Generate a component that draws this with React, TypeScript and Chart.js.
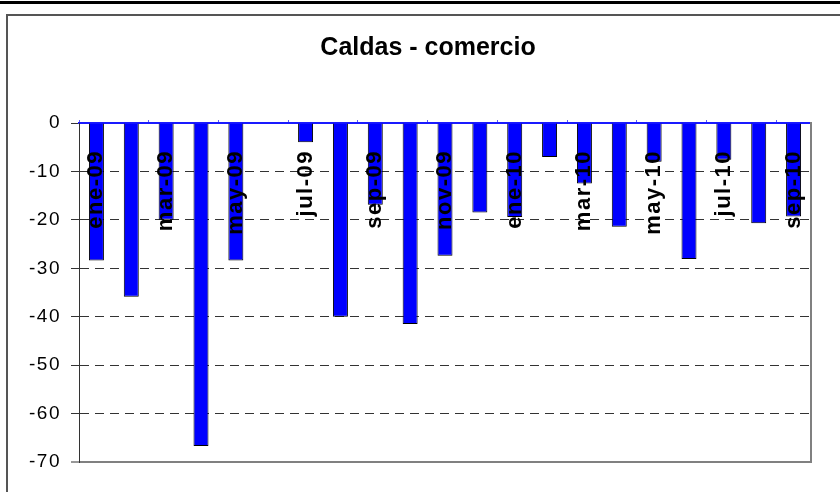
import React, { useEffect, useRef } from 'react';
import { Chart, registerables } from 'chart.js';

Chart.register(...registerables);

const titleText = 'Caldas - comercio';
const categories = [
  'ene-09', 'feb-09', 'mar-09', 'abr-09', 'may-09', 'jun-09', 'jul-09',
  'ago-09', 'sep-09', 'oct-09', 'nov-09', 'dic-09', 'ene-10', 'feb-10',
  'mar-10', 'abr-10', 'may-10', 'jun-10', 'jul-10', 'ago-10', 'sep-10',
];
const values: (number | null)[] = [
  -28.4, -35.9, -20.0, -66.7, -28.4, null, -4.0,
  -40.0, -16.9, -41.5, -27.4, -18.5, -19.4, -7.0,
  -12.5, -21.4, -8.0, -28.1, -7.6, -20.7, -19.3,
];
const yMin = -70;
const yMax = 0;
const yStep = 10;

const FONT = "'Liberation Sans', Arial, Helvetica, sans-serif";

const spacingPlugin = {
  id: 'labelSpacing',
  afterDatasetsDraw(chart: any) {
    chart.ctx.letterSpacing = '1.5px';
  },
  afterDraw(chart: any) {
    chart.ctx.letterSpacing = '0px';
  },
};

export default function App() {
  const ref = useRef<HTMLCanvasElement>(null);

  useEffect(() => {
    const canvas = ref.current;
    if (!canvas) return;
    const chart = new Chart(canvas, {
      type: 'bar',
      data: {
        labels: categories,
        datasets: [
          {
            data: values,
            backgroundColor: '#0000ff',
            borderColor: '#000000',
            borderWidth: 1,
            barPercentage: 0.43,
            categoryPercentage: 1,
          },
        ],
      },
      plugins: [spacingPlugin],
      options: {
        responsive: false,
        animation: false,
        layout: { padding: { left: 16, right: 0, top: 0, bottom: 30 } },
        plugins: {
          legend: { display: false },
          tooltip: { enabled: false },
          title: {
            display: true,
            text: titleText,
            color: '#000000',
            font: { family: FONT, size: 25, weight: 'bold' },
            padding: { top: 33, bottom: 60 },
          },
        },
        scales: {
          x: {
            type: 'category',
            position: { y: 0 } as any,
            afterFit: (s: any) => {
              s.height = 0;
              s.paddingLeft = 0;
              s.paddingRight = 0;
            },
            grid: {
              display: true,
              drawOnChartArea: false,
              drawTicks: true,
              tickLength: -4,
              offset: true,
              tickColor: (c: any) => (typeof c.index === 'number' && c.index % 2 === 0 ? '#5a5aff' : 'rgba(0,0,0,0)'),
            },
            border: { display: true, color: '#1a1aff', width: 2 },
            ticks: {
              autoSkip: false,
              minRotation: 90,
              maxRotation: 90,
              padding: 31,
              z: 1,
              color: '#000000',
              font: { family: FONT, size: 22, weight: 'bold' },
              callback: (_v: any, i: number) => (i % 2 === 0 ? categories[i] : ''),
            },
          },
          y: {
            type: 'linear',
            position: 'left',
            min: yMin,
            max: yMax,
            afterFit: (s: any) => {
              s.width = 63;
            },
            ticks: {
              stepSize: yStep,
              padding: 10,
              z: 1,
              color: '#000000',
              font: { family: FONT, size: 19 },
            },
            grid: {
              color: (c: any) => {
                if (!c.tick) return '#333333';
                if (c.tick.value === yMax) return 'rgba(0,0,0,0)';
                if (c.tick.value === yMin) return '#808080';
                return '#333333';
              },
              lineWidth: (c: any) => (c.tick && c.tick.value === yMin ? 2 : 1),
              tickColor: '#333333',
              tickLength: 8,
              tickWidth: 1,
            },
            border: {
              display: true,
              color: '#333333',
              width: 1,
              dash: (c: any) => (c.tick && c.tick.value !== yMin ? [9, 6] : []),
            },
          },
          y2: {
            type: 'linear',
            position: 'right',
            afterFit: (s: any) => {
              s.width = 29;
            },
            grid: { display: false, drawTicks: false },
            ticks: { display: false },
            border: { display: true, color: '#808080', width: 2 },
          },
        },
      },
    });
    return () => chart.destroy();
  }, []);

  return (
    <div
      style={{
        position: 'fixed',
        left: 0,
        top: 0,
        width: 840,
        height: 492,
        background: '#ffffff',
        overflow: 'hidden',
      }}
    >
      <div style={{ position: 'absolute', left: 0, top: 1, width: 840, height: 3, background: '#000000' }} />
      <div
        style={{
          position: 'absolute',
          left: 6,
          top: 14,
          width: 860,
          height: 520,
          borderTop: '2px solid #555555',
          borderLeft: '2px solid #555555',
        }}
      />
      <canvas ref={ref} width={840} height={492} style={{ position: 'absolute', left: 0, top: 0 }} />
    </div>
  );
}
